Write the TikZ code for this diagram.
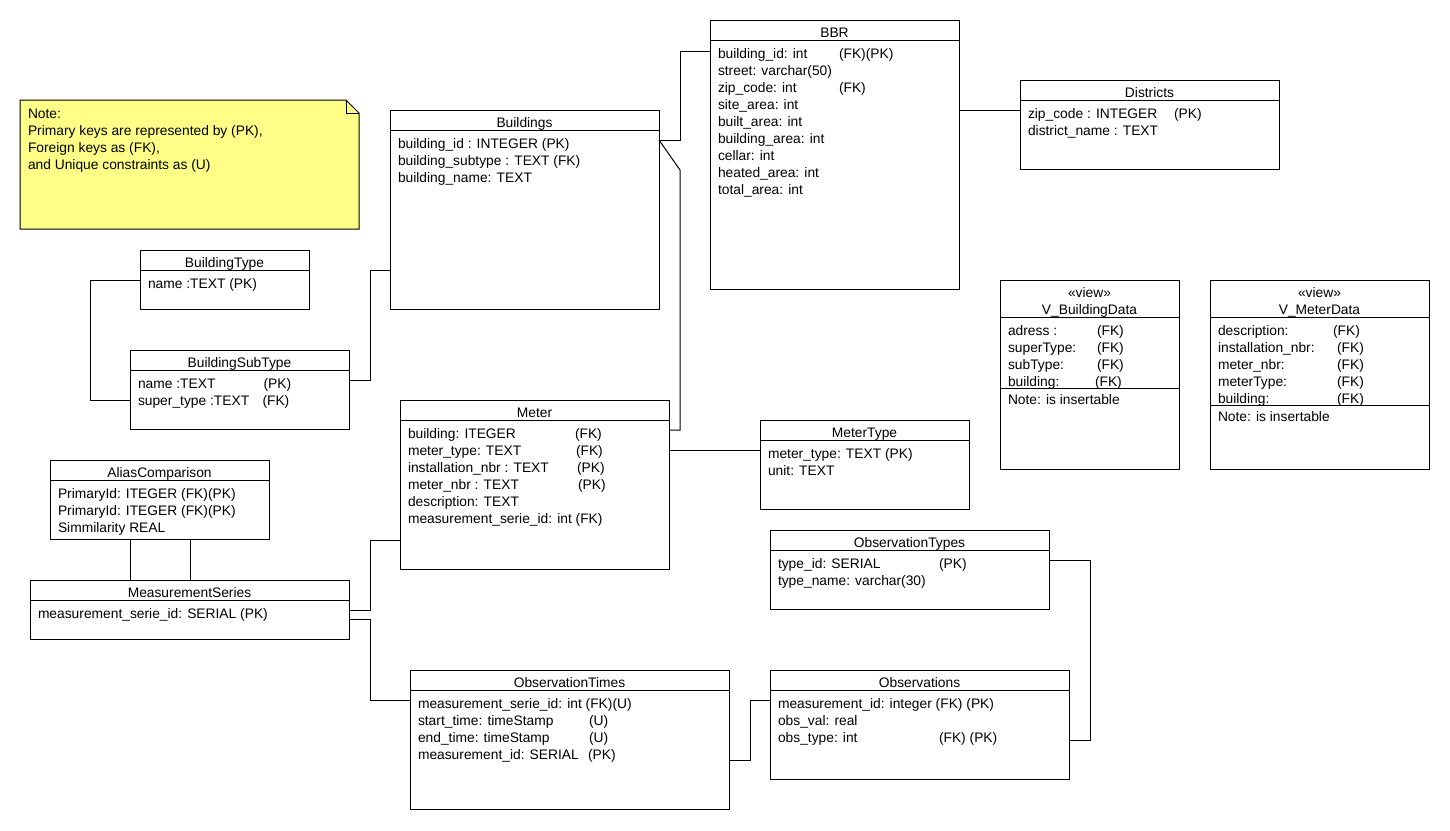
\documentclass[tikz,border=0pt]{standalone}
\usepackage{fontspec}
\setmainfont{Liberation Sans}
\usetikzlibrary{calc}
\definecolor{noteyellow}{RGB}{255,255,135}
\newcounter{rwc}
\newcommand{\rw}[3]{\stepcounter{rwc}\node[txt, anchor=base west] (rw\arabic{rwc}) at (#1,#2) {#3};}
\newcommand{\erbox}[6]{% name, left, top, width, height, title
  \node[tbox, minimum width=#4pt, minimum height=#5pt, anchor=north west] (#1) at (#2,#3) {};
  \draw[conn] ([yshift=-20pt]#1.north west) -- ([yshift=-20pt]#1.north east);
  \node[txt, anchor=base] (#1-title) at ([yshift=-17.5pt]#1.north) {#6};
}
\begin{document}
\begin{tikzpicture}[x=1pt,y=-1pt,
  tbox/.style={draw=black, line width=1pt, fill=white, inner sep=0pt, outer sep=0pt},
  txt/.style={inner sep=0pt, outer sep=0pt, font=\fontsize{13.8}{16}\selectfont},
  conn/.style={draw=black, line width=1pt}]
\useasboundingbox[fill=white] (0,0) rectangle (1450,830);

% Note
\path[draw=black, line width=1pt, fill=noteyellow] (20,100) -- (346,100) -- (359,113) -- (359,229) -- (20,229) -- cycle;
\draw[conn] (346,100) -- (346,113) -- (359,113);
\node[txt, anchor=base west] (note1) at (28,118) {Note:};
\node[txt, anchor=base west] (note2) at (28,135) {Primary keys are represented by (PK),};
\node[txt, anchor=base west] (note3) at (28,152) {Foreign keys as (FK),};
\node[txt, anchor=base west] (note4) at (28,169) {and Unique constraints as (U)};

% Tables
\erbox{bld}{390}{110}{269}{199}{Buildings}
\rw{398}{148}{building\_id : INTEGER (PK)}
\rw{398}{165}{building\_subtype : TEXT (FK)}
\rw{398}{182}{building\_name: TEXT}

\erbox{bbr}{710}{20}{249}{269}{BBR}
\rw{718}{58}{building\_id: int}
\rw{839}{58}{(FK)(PK)}
\rw{718}{75}{street: varchar(50)}
\rw{718}{92}{zip\_code: int}
\rw{839}{92}{(FK)}
\rw{718}{109}{site\_area: int}
\rw{718}{126}{built\_area: int}
\rw{718}{143}{building\_area: int}
\rw{718}{160}{cellar: int}
\rw{718}{177}{heated\_area: int}
\rw{718}{194}{total\_area: int}

\erbox{dist}{1020}{80}{259}{89}{Districts}
\rw{1028}{118}{zip\_code : INTEGER}
\rw{1174}{118}{(PK)}
\rw{1028}{135}{district\_name : TEXT}

\erbox{btype}{140}{250}{169}{59}{BuildingType}
\rw{148}{288}{name :TEXT (PK)}

\erbox{bsub}{130}{350}{219}{79}{BuildingSubType}
\rw{138}{388}{name :TEXT}
\rw{263.5}{388}{(PK)}
\rw{138}{405}{super\_type :TEXT}
\rw{262.5}{405}{(FK)}

\erbox{meter}{400}{400}{269}{169}{Meter}
\rw{408}{438}{building: ITEGER}
\rw{575}{438}{(FK)}
\rw{408}{455}{meter\_type: TEXT}
\rw{576}{455}{(FK)}
\rw{408}{472}{installation\_nbr : TEXT}
\rw{577}{472}{(PK)}
\rw{408}{489}{meter\_nbr : TEXT}
\rw{578}{489}{(PK)}
\rw{408}{506}{description: TEXT}
\rw{408}{523}{measurement\_serie\_id: int (FK)}

\erbox{mtype}{760}{420}{209}{89}{MeterType}
\rw{768}{458}{meter\_type: TEXT (PK)}
\rw{768}{475}{unit: TEXT}

\erbox{alias}{50}{460}{219}{79}{AliasComparison}
\rw{58}{498}{PrimaryId: ITEGER (FK)(PK)}
\rw{58}{515}{PrimaryId: ITEGER (FK)(PK)}
\rw{58}{532}{Simmilarity REAL}

\erbox{ms}{30}{580}{319}{59}{MeasurementSeries}
\rw{38}{618}{measurement\_serie\_id: SERIAL (PK)}

\erbox{otypes}{770}{530}{279}{79}{ObservationTypes}
\rw{778}{568}{type\_id: SERIAL}
\rw{939}{568}{(PK)}
\rw{778}{585}{type\_name: varchar(30)}

\erbox{obst}{410}{670}{319}{139}{ObservationTimes}
\rw{418}{708}{measurement\_serie\_id: int (FK)(U)}
\rw{418}{725}{start\_time: timeStamp}
\rw{589}{725}{(U)}
\rw{418}{742}{end\_time: timeStamp}
\rw{589}{742}{(U)}
\rw{418}{759}{measurement\_id: SERIAL}
\rw{588}{759}{(PK)}

\erbox{obs}{770}{670}{299}{109}{Observations}
\rw{778}{708}{measurement\_id: integer (FK) (PK)}
\rw{778}{725}{obs\_val: real}
\rw{778}{742}{obs\_type: int}
\rw{939}{742}{(FK) (PK)}

% Views
\node[tbox, minimum width=179pt, minimum height=189pt, anchor=north west] (vbd) at (1000,280) {};
\draw[conn] ([yshift=-37pt]vbd.north west) -- ([yshift=-37pt]vbd.north east);
\draw[conn] ([yshift=-108pt]vbd.north west) -- ([yshift=-108pt]vbd.north east);
\node[txt, anchor=base] (vbd-st) at ([yshift=-17pt]vbd.north) {«view»};
\node[txt, anchor=base] (vbd-title) at ([yshift=-34pt]vbd.north) {V\_BuildingData};
\rw{1008}{335}{adress :}
\rw{1097}{335}{(FK)}
\rw{1008}{352}{superType:}
\rw{1097}{352}{(FK)}
\rw{1008}{369}{subType:}
\rw{1097}{369}{(FK)}
\rw{1008}{386}{building:}
\rw{1095}{386}{(FK)}
\rw{1008}{404}{Note: is insertable}

\node[tbox, minimum width=219pt, minimum height=189pt, anchor=north west] (vmd) at (1210,280) {};
\draw[conn] ([yshift=-37pt]vmd.north west) -- ([yshift=-37pt]vmd.north east);
\draw[conn] ([yshift=-125.5pt]vmd.north west) -- ([yshift=-125.5pt]vmd.north east);
\node[txt, anchor=base] (vmd-st) at ([yshift=-17pt]vmd.north) {«view»};
\node[txt, anchor=base] (vmd-title) at ([yshift=-34pt]vmd.north) {V\_MeterData};
\rw{1218}{335}{description:}
\rw{1333}{335}{(FK)}
\rw{1218}{352}{installation\_nbr:}
\rw{1337}{352}{(FK)}
\rw{1218}{369}{meter\_nbr:}
\rw{1337}{369}{(FK)}
\rw{1218}{386}{meterType:}
\rw{1337}{386}{(FK)}
\rw{1218}{403}{building:}
\rw{1337}{403}{(FK)}
\rw{1218}{421.5}{Note: is insertable}

% Connectors
\draw[conn] ([yshift=-30pt]bld.north east) -- ++(21,0) |- ([yshift=-31pt]bbr.north west);
\draw[conn] ([yshift=-30pt]bld.north east) -- ++(21,30) |- ([yshift=-30pt]meter.north east);
\coordinate (d1) at ([yshift=-30pt]dist.north west);
\draw[conn] (d1) -- (d1 -| bbr.east);
\draw[conn] ([yshift=-30pt]btype.north west) -- ++(-50,0) |- ([yshift=-50pt]bsub.north west);
\draw[conn] ([yshift=-30pt]bsub.north east) -- ++(21,0) |- ([yshift=-160pt]bld.north west);
\draw[conn] ([yshift=-50pt]meter.north east) -- ([yshift=-30pt]mtype.north west);
\draw[conn] ([yshift=-30pt]ms.north east) -- ++(21,0) |- ([yshift=-140pt]meter.north west);
\draw[conn] ([yshift=-39pt]ms.north east) -- ++(21,0) |- ([yshift=-30pt]obst.north west);
\coordinate (a1) at ([xshift=80pt]alias.south west);
\coordinate (a2) at ([xshift=140pt]alias.south west);
\draw[conn] (a1) -- (a1 |- ms.north);
\draw[conn] (a2) -- (a2 |- ms.north);
\draw[conn] ([yshift=-90pt]obst.north east) -- ++(21,0) |- ([yshift=-30pt]obs.north west);
\draw[conn] ([yshift=-30pt]otypes.north east) -- ++(41,0) |- ([yshift=-70pt]obs.north east);
\end{tikzpicture}
\end{document}
